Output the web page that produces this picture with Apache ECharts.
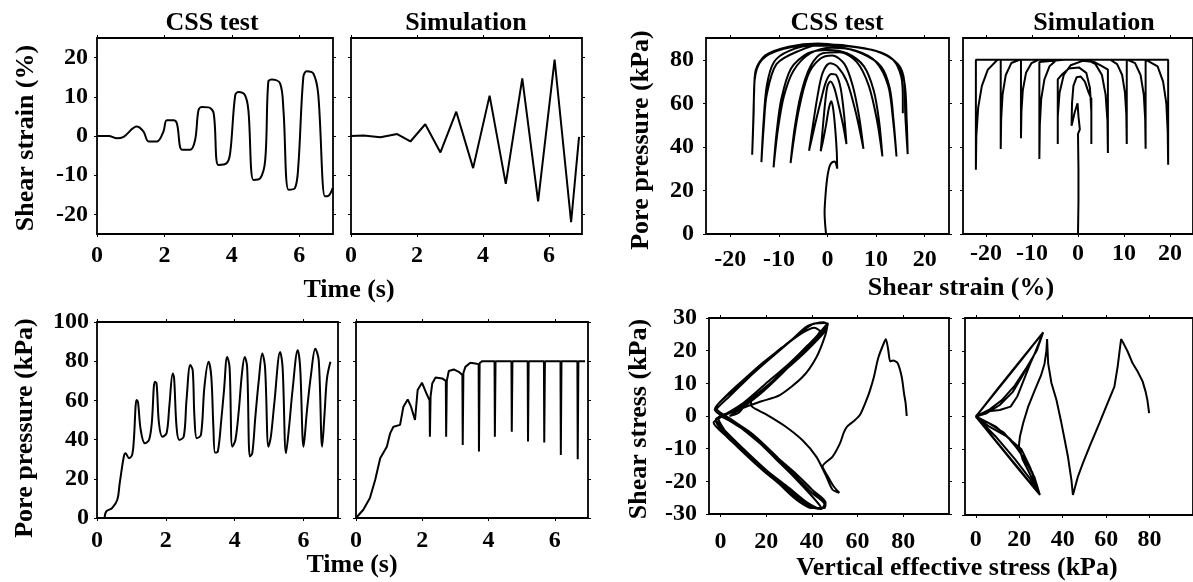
<!DOCTYPE html>
<html><head><meta charset="utf-8">
<script src="https://cdn.jsdelivr.net/npm/echarts@6/dist/echarts.min.js"></script>
<style>html,body{margin:0;padding:0;background:#fff}#c{width:1193px;height:582px}</style>
</head><body><div id="c"></div>
<script>
// ---------- tick labels ----------
const timeTicks = [0, 2, 4, 6];
const strainTicks = [-20, -10, 0, 10, 20];
const ppTicksTop = [0, 20, 40, 60, 80];
const ppTicksBottom = [0, 20, 40, 60, 80, 100];
const stressTicks = [-30, -20, -10, 0, 10, 20, 30];
const sigmaTicks = [0, 20, 40, 60, 80];

// ---------- CSS test: shear strain (%) vs time (s) ----------
const cssStrainTime = [0,0.35,0.59,0.79,1.18,1.38,1.53,1.78,1.97,2.07,2.27,2.37,2.52,2.76,2.91,3.01,3.11,3.31,3.46,3.60,3.85,3.95,4.10,4.20,4.39,4.49,4.64,4.84,4.99,5.08,5.18,5.43,5.53,5.68,5.87,5.97,6.12,6.22,6.42,6.56,6.76,6.86,6.99];
const cssStrain = [0,0,-0.6,-0.2,2.4,1.1,-1.4,-1.4,1.1,4.0,4.0,3.2,-3.5,-3.5,-1.0,6.6,7.4,7.3,5.8,-7.4,-6.9,-4.4,10.4,11.2,10.4,6.6,-11.2,-10.8,-6.1,13.8,14.4,13.4,6.6,-13.7,-13.3,-7.8,15.1,16.5,15.9,10.8,-15.4,-15.3,-13.3];

// ---------- Simulation: shear strain (%) vs time (s) ----------
const simStrainTime = [0,0.38,0.89,1.40,1.80,2.25,2.71,3.19,3.70,4.20,4.69,5.19,5.67,6.17,6.67,6.91];
const simStrain = [0,0.1,-0.3,0.5,-1.4,3.0,-4.2,6.2,-8.2,10.3,-12.2,14.7,-16.7,19.5,-22.0,-0.2];

// ---------- CSS test: pore pressure (kPa) vs time (s) ----------
const cssPPTime = [0.22,0.27,0.44,0.59,0.66,0.78,0.83,0.93,1.02,1.07,1.15,1.19,1.27,1.39,1.51,1.59,1.68,1.73,1.80,1.90,2.02,2.10,2.20,2.24,2.31,2.39,2.52,2.60,2.71,2.78,2.83,2.90,3.02,3.12,3.24,3.32,3.38,3.43,3.51,3.61,3.69,3.78,3.85,3.93,4.02,4.12,4.21,4.29,4.36,4.44,4.51,4.60,4.70,4.80,4.88,4.98,5.05,5.15,5.32,5.39,5.49,5.58,5.68,5.83,5.90,6.00,6.10,6.22,6.34,6.44,6.54,6.61,6.68,6.78];
const cssPP = [0,3.4,5.1,9.3,17.8,31.4,33,30.5,32.2,39.8,60.2,59.3,44.9,38.1,39.8,48.3,69.5,68.6,48.3,41.5,43.2,56.8,73.7,71.2,46.6,39.8,41.5,60.2,78,75.4,51.7,40.7,42.4,66.9,79.7,72,46.6,33.4,33.9,50,65.3,82.2,77.1,36.4,39.8,55.1,73.7,82.2,77.1,31.4,33,51.7,70.3,83.9,77.1,36.4,41.5,58.5,84.7,77.1,33,46.6,65.3,85.6,77.1,36.4,55.1,73.7,86.4,80.5,36.4,53.4,71.2,79.7];

// ---------- Simulation: pore pressure (kPa) vs time (s) ----------
const simPPTime = [0,0.22,0.42,0.58,0.73,0.93,1.03,1.13,1.33,1.43,1.56,1.66,1.78,1.86,1.99,2.14,2.22,2.23,2.25,2.30,2.40,2.60,2.71,2.72,2.74,2.80,2.95,3.10,3.21,3.22,3.24,3.30,3.45,3.60,3.70,3.71,3.73,3.80,4.18,4.19,4.21,4.69,4.70,4.72,5.18,5.19,5.21,5.67,5.68,5.70,6.17,6.18,6.20,6.68,6.69,6.71,6.91];
const simPP = [0,4.2,10.2,19.5,30.5,36.4,43.2,46.6,47.5,56.8,60.5,56.8,50,65.3,69,63,60,41.5,62,68.6,71.7,71.2,70,41.5,70,75,75.8,74.6,73,37.3,74,77.1,79.2,78.8,78.5,33.9,79,80,80,41.5,80,80,44,80,80,39,80,80,38.5,80,80,32.2,80,80,30,80,80];

// ---------- CSS test: [shear strain (%), pore pressure (kPa)] ----------
const cssFanPath = [
[-0.3,0],[-0.5,5],[-0.6,10],[-0.4,18],[-0.2,23],[0.1,28],[0.5,31.5],[1.0,33],[1.5,33.3],[1.8,32],[2.0,30],
[1.9,38],[1.6,48],[1.2,57],[0.8,61],[0.3,58],[-0.3,50],[-0.9,43],[-1.4,38],
[-1.0,48],[-0.5,60],[0,68],[0.6,70],[1.4,67],[2.2,60],[3.2,50],[3.9,41.3],
[3.4,55],[2.7,67],[1.8,73],[0.8,73.5],[-0.3,70],[-1.5,60],[-2.8,48],[-3.8,38.2],
[-3.0,50],[-2.0,64],[-1.0,74],[0.5,78.4],[2.0,77],[4.0,70],[5.8,56],[7.4,39.1],
[6.5,54],[5.2,68],[3.5,78],[1.0,82],[-1.5,80.5],[-4.0,73],[-6.0,56],[-7.6,32.6],
[-6.8,48],[-5.5,64],[-3.5,77],[-1.0,83],[2.5,83.5],[6.0,79],[8.5,68],[10.2,52],[11.3,35.6],
[10.6,52],[9.5,66],[7.5,77],[4,83],[0,84.5],[-4,83],[-7.5,76],[-9.5,62],[-10.5,46],[-11.1,30.6],
[-10.2,48],[-9,63],[-7,75],[-3.5,83],[1,85.5],[6,84],[10,79],[12.5,68],[13.5,52],[14.2,35.6],
[13.6,52],[12.8,67],[11,77],[7,83],[2,86],[-3,86.5],[-8,84],[-11,79],[-12.5,68],[-13.2,50],[-13.6,33],
[-13.1,50],[-12.5,64],[-10.5,78],[-6,84],[-1,87],[4,86.5],[10,84],[14,79],[15.8,70],[16.3,52],[16.5,36.7],
[16,55],[15.8,70],[14.5,78],[10,84],[3,86.5],[-2,87.5],[-8,86],[-12.8,82],[-14.8,75],[-15.1,65],[-15.3,50],[-15.5,36.4],
[-15.2,55],[-15.0,70.5],[-13.5,80],[-9,85],[-2,87],[3,86.5],[10,84],[13.5,80],[15.2,72],[15.5,62],[15.5,55.5]
];

// ---------- Simulation: [shear strain (%), pore pressure (kPa)] ----------
const simFanPath = [
[0,0],[0.1,15],[0.1,30],[0,46],[0.4,48],[0.1,54],[-0.1,60],[-0.7,56],[-1.4,49.7],
[-1.3,60],[-1.0,68],[-0.3,72],[0.6,72.3],[1.5,70],[2.3,65],[2.9,62],[2.9,41.3],
[2.9,56],[2.6,67],[1.8,74],[0.2,76.5],[-2,76],[-3.6,73],[-4.4,71],[-4.4,41.3],
[-4.4,54],[-4.0,65],[-3.1,73],[-1.6,77.5],[1,79.5],[3.5,79],[5.3,77],[6.5,75.5],[6.5,37.2],
[6.4,52],[6.0,64],[5.2,73],[3.8,78],[2,80],[-3,80],[-8.4,79],[-8.4,34.4],
[-8.3,50],[-8.0,62],[-7.3,71],[-6.2,77],[-4.6,80],[10.6,80],[10.6,41.3],
[10.5,55],[10.2,65],[9.6,73],[8.5,78],[7,80],[-12.4,80],[-12.4,44],
[-12.3,56],[-12,66],[-11.3,74],[-10.1,78.5],[-8.6,80],[14.7,80],[14.7,39.1],
[14.6,53],[14.3,64],[13.6,73],[12.4,78.5],[10.8,80],[-16.8,80],[-16.8,39],
[-16.7,53],[-16.4,64],[-15.7,73],[-14.5,78.5],[-12.7,80],[19.6,80],[19.6,31.8],
[19.5,47],[19.2,60],[18.5,70],[17.3,77],[14.8,80],[-22.2,80],[-22.2,29.5],
[-22.1,45],[-21.7,58],[-20.9,68],[-19.6,75.5],[-17.5,80],[0,80]
];

// ---------- CSS test: [vertical effective stress (kPa), shear stress (kPa)] ----------
const cssStressPath = [
[81.5,0],[81,4],[80.3,7],[79.3,12],[77.5,16.2],[75.5,17],[74.3,16.7],[73.4,20.3],[72.4,23.5],[71.6,22.5],[69,17.7],[67.2,12.1],[65.5,8],[63.9,4.9],[61,0.3],[58.1,-1.7],[55.5,-3.2],[54,-5],[52.3,-8.4],[49,-12.5],[44.7,-15.4],[47,-18.5],[49.5,-21.5],[52,-23.5],
[49,-22.5],[46,-18],[42,-12.5],[36,-7.5],[28,-3],[20,0.5],[13.6,3],[13.2,5],[8,1],[4,0],[10,2.5],[18,4.5],[26,6.4],[36,12],[42,18],[46,25],[47,28.5],
[44,26],[38,21],[30,15.5],[20,9],[10,3.5],[2,0.5],[-2,-1],
[2,-4.5],[10,-10],[20,-16.5],[30,-22],[38,-26.5],[44,-28.4],[46,-27.5],
[42,-24],[35,-19],[25,-13],[15,-7],[5,-1.5],[-2,1.5],
[4,6],[12,11.5],[20,16.5],[30,22.5],[38,27.5],[45,28.7],[47,28],
[43,24.5],[36,19.5],[27,13],[17,6.5],[8,2],[-1,-0.5],
[3,-5.5],[12,-11.5],[22,-18],[32,-23.5],[40,-27.8],[45.5,-28.2],[46,-26.5],
[40,-22.5],[32,-17],[22,-11],[12,-5],[3,-1],[-2.5,2],
[3,6.5],[10,11],[18,16],[27,21],[35,25.5],[41,28.3],[46,28.5],[46.5,27],
[42,23],[34,17.5],[25,12],[15,5.5],[6,1.5],[-2,-1.5],
[4,-7],[12,-12.5],[20,-17.5],[30,-23],[38,-27.5],[44,-28.5],[45.5,-27],
[40,-23.5],[33,-18.5],[24,-12],[14,-5.5],[5,-1.2],[-2,2.5],
[5,7.5],[14,13],[22,18],[30,22.5],[36,25.5],[41,27],[43.5,26],
[38,21.5],[30,16],[20,10],[10,4],[1,0],[-3,-2],
[3,-6.5],[10,-11],[18,-16],[26,-21],[33,-25.5],[40,-28.2],[44,-28],
[40,-24.5],[32,-18.5],[24,-13],[16,-7.5],[8,-3],[0,0]
];

// ---------- Simulation: [vertical effective stress (kPa), shear stress (kPa)] ----------
const simStressPath = [
[79.8,1],[79,5],[78.2,7.5],[76.8,10.7],[74.5,13.7],[72.2,16.2],[69.9,19.8],[67.6,22.8],[66.9,23.6],
[66.2,20],[65.3,15.2],[63.8,9.1],[60,3],[56.9,-2],[52.4,-9.1],[49.3,-14.2],[47,-18.3],[44.7,-23.9],
[44,-19.3],[42.4,-12.2],[40.9,-7.1],[39.4,-2],[37.1,5.1],[34.8,10.2],[33.3,16.2],[32.8,23.6],
[32.5,20],[31.6,16],[30,12.5],[27.2,8.1],[24.1,3],[21.8,-2],[20.3,-6.1],[19.8,-9],[21.5,-13],[24.5,-17],[27.5,-21],[29.5,-23.9],
[20,-16.2],[10,-8.1],[0,0],[10,8.3],[20,16.5],[31,25.6],
[27,19],[22,13],[17,7.5],[11,3.5],[5,1],[0,0],
[10,-8.2],[20,-16.3],[29.5,-23.9],
[26,-17],[20,-10.5],[13,-5],[6,-2],[0,0],
[10,8.4],[20,16.6],[31,25.6],
[28,20],[23,14.5],[18,9.5],[12,5],[6,2],[0,0],
[10,-8],[20,-16],[29.5,-23.9],
[27,-18.5],[22,-12.5],[16,-7],[9,-3],[0,0],
[10,8.2],[20,16.4],[31,25.6],
[29,22],[25,16],[19,6],[16,3],[11,2],[5,1.5],[0,0],
[9,-6],[18,-13],[25,-19],[29.5,-23.9],
[28,-21],[25,-15.5],[21,-10],[14,-6],[6,-3],[0,0]
];

// ---------- build ----------
const FONT = 'Liberation Serif';
const TICK_FS = 24, NAME_FS = 26;
const zip = (a, b) => a.map((v, i) => [v, b[i]]);

const panels = [
  {g:{left:97, top:38, width:236, height:196}, x:[0,7,timeTicks], y:[-25,25,strainTicks], yLab:true, xm:10, ym:9, data:zip(cssStrainTime, cssStrain), smooth:0.35},
  {g:{left:351, top:38, width:231, height:196}, x:[0,7,timeTicks], y:[-25,25,strainTicks], yLab:false, xm:10, ym:9, data:zip(simStrainTime, simStrain), smooth:false},
  {g:{left:706, top:38, width:243, height:196}, x:[-25,25,strainTicks], y:[0,90,ppTicksTop], yLab:true, xm:14, ym:12, data:cssFanPath, smooth:0.3},
  {g:{left:963, top:38, width:233, height:196}, x:[-25,25,strainTicks], y:[0,90,ppTicksTop], yLab:false, xm:8, ym:12, data:simFanPath, smooth:false},
  {g:{left:97, top:322, width:241, height:196}, x:[0,7,timeTicks], y:[0,100,ppTicksBottom], yLab:true, xm:11, ym:8, data:zip(cssPPTime, cssPP), smooth:0.35},
  {g:{left:356, top:322, width:232, height:196}, x:[0,7,timeTicks], y:[0,100,ppTicksBottom], yLab:false, xm:11, ym:8, data:zip(simPPTime, simPP), smooth:false},
  {g:{left:709, top:318, width:240, height:196}, x:[-5,100,sigmaTicks], y:[-30,30,stressTicks], yLab:true, xm:16, ym:12, data:cssStressPath, smooth:0.25},
  {g:{left:965, top:318, width:229, height:197}, x:[-5,100,sigmaTicks], y:[-30,30,stressTicks], yLab:false, xm:13, ym:12, data:simStressPath, smooth:false}
];

function mkAxis(gi, pos, rng, showLabel, margin) {
  return {
    type:'value', gridIndex:gi, position:pos, min:rng[0], max:rng[1],
    axisLine:{show:false, onZero:false}, splitLine:{show:false},
    axisTick:{show:true, inside:false, length:3, lineStyle:{color:'#000', width:1}, customValues:rng[2]},
    axisLabel:{show:showLabel, customValues:rng[2], margin:margin, fontFamily:FONT, fontWeight:'bold', fontSize:TICK_FS, color:'#000'}
  };
}

const grid = [], xAxis = [], yAxis = [], series = [];
panels.forEach((p, i) => {
  grid.push(Object.assign({show:true, borderColor:'#000', borderWidth:1.8, backgroundColor:'rgba(0,0,0,0)'}, p.g));
  xAxis.push(mkAxis(i, 'bottom', p.x, true, p.xm));
  xAxis.push(mkAxis(i, 'top', p.x, false, 0));
  yAxis.push(mkAxis(i, 'left', p.y, p.yLab, p.ym));
  yAxis.push(mkAxis(i, 'right', p.y, false, 0));
  series.push({type:'line', xAxisIndex:2*i, yAxisIndex:2*i, data:p.data, showSymbol:false, symbol:'none',
    smooth:p.smooth, lineStyle:{color:'#000', width:2}, silent:true, clip:true});
});

const txt = (x, y, t, rot) => ({type:'text', x:x, y:y, rotation:rot || 0, silent:true,
  style:{text:t, fontFamily:FONT, fontWeight:'bold', fontSize:NAME_FS, fill:'#000', align:'center', verticalAlign:'middle'}});

const graphic = [
  txt(212, 23, 'CSS test'), txt(466, 23, 'Simulation'),
  txt(837, 23, 'CSS test'), txt(1094, 23, 'Simulation'),
  txt(26, 138, 'Shear strain (%)', Math.PI/2),
  txt(349, 290, 'Time (s)'),
  txt(641, 140, 'Pore pressure (kPa)', Math.PI/2),
  txt(961, 288, 'Shear strain (%)'),
  txt(25, 428, 'Pore pressure (kPa)', Math.PI/2),
  txt(352, 565, 'Time (s)'),
  txt(639, 419, 'Shear stress (kPa)', Math.PI/2),
  txt(957, 568, 'Vertical effective stress (kPa)')
];

const chart = echarts.init(document.getElementById('c'), null, {renderer:'canvas'});
chart.setOption({animation:false, backgroundColor:'#fff', grid, xAxis, yAxis, series, graphic});
</script></body></html>
